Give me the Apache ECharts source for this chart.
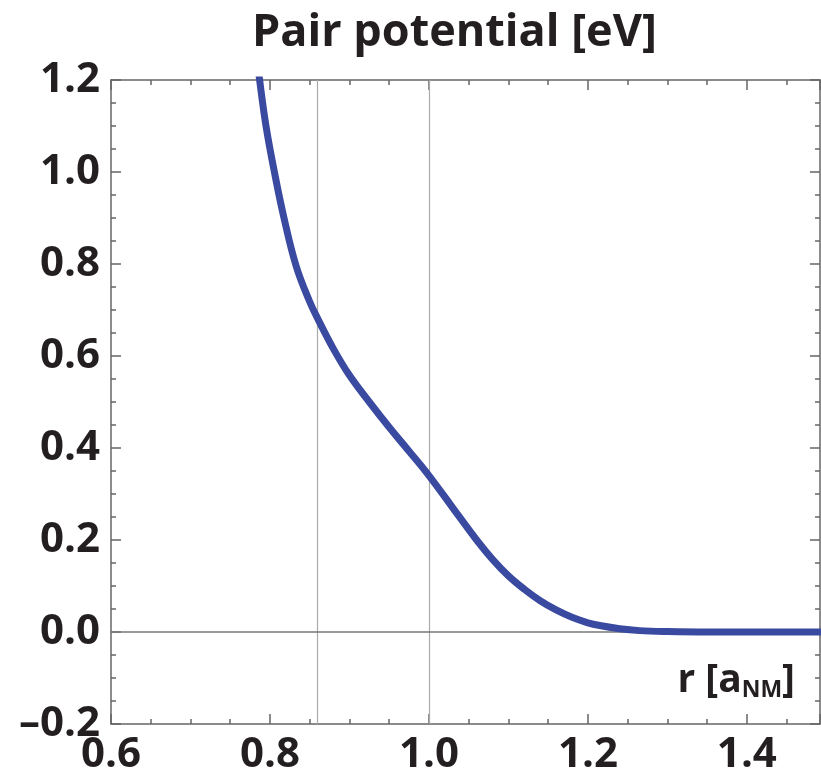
<!DOCTYPE html>
<html>
<head>
<meta charset="utf-8">
<script src="https://cdn.jsdelivr.net/npm/echarts@6/dist/echarts.min.js"></script>
<style>
  html, body { margin: 0; padding: 0; background: #fff; }
  #chart { width: 821px; height: 779px; }
</style>
</head>
<body>
<div id="chart"></div>
<script>
// r in units of a_NM
var rValues = [0.780, 0.787, 0.795, 0.805, 0.817, 0.833, 0.850, 0.861, 0.880, 0.900,
  0.925, 0.950, 0.975, 1.000, 1.030, 1.060, 1.080, 1.100, 1.120, 1.140,
  1.160, 1.180, 1.200, 1.215, 1.240, 1.265, 1.300, 1.350, 1.400, 1.500];
// pair potential in eV
var potValues = [1.30, 1.20, 1.10, 1.005, 0.905, 0.795, 0.718, 0.678, 0.615, 0.558,
  0.500, 0.445, 0.393, 0.340, 0.270, 0.200, 0.158, 0.122, 0.093, 0.068,
  0.048, 0.032, 0.020, 0.014, 0.007, 0.003, 0.001, 0, 0, 0];
var refLinesX = [0.86, 1.0];

var font = 'Open Sans';
var textColor = '#231f20';

var curve = rValues.map(function (r, i) { return [r, potValues[i]]; });

var chart = echarts.init(document.getElementById('chart'));

var tickStyle = { color: '#666', width: 1.5 };

var option = {
  animation: false,
  grid: { left: 111, top: 80, right: 1, bottom: 55 },
  xAxis: [{
    type: 'value',
    min: 0.6,
    max: 1.492,
    interval: 0.2,
    axisLine: { show: true, onZero: false, lineStyle: tickStyle },
    axisTick: { show: true, inside: true, length: 10, lineStyle: tickStyle },
    minorTick: { show: true, splitNumber: 4, length: 5, lineStyle: tickStyle },
    splitLine: { show: false },
    axisLabel: {
      showMaxLabel: false,
      margin: 10,
      color: textColor, fontFamily: font, fontWeight: 'bold', fontSize: 42,
      formatter: function (v) { return v.toFixed(1); }
    }
  }, {
    type: 'value',
    position: 'top',
    min: 0.6,
    max: 1.492,
    interval: 0.2,
    axisLine: { show: true, onZero: false, lineStyle: tickStyle },
    axisTick: { show: true, inside: true, length: 10, lineStyle: tickStyle },
    minorTick: { show: true, splitNumber: 4, length: 5, lineStyle: tickStyle },
    splitLine: { show: false },
    axisLabel: { show: false }
  }],
  yAxis: [{
    type: 'value',
    min: -0.2,
    max: 1.2,
    interval: 0.2,
    axisLine: { show: true, onZero: false, lineStyle: tickStyle },
    axisTick: { show: true, inside: true, length: 10, lineStyle: tickStyle },
    minorTick: { show: true, splitNumber: 4, length: 5, lineStyle: tickStyle },
    splitLine: { show: false },
    axisLabel: {
      margin: 11,
      color: textColor, fontFamily: font, fontWeight: 'bold', fontSize: 42,
      formatter: function (v) { return v.toFixed(1).replace('-', '\u2013'); }
    }
  }, {
    type: 'value',
    position: 'right',
    min: -0.2,
    max: 1.2,
    interval: 0.2,
    axisLine: { show: true, onZero: false, lineStyle: tickStyle },
    axisTick: { show: true, inside: true, length: 10, lineStyle: tickStyle },
    minorTick: { show: true, splitNumber: 4, length: 5, lineStyle: tickStyle },
    splitLine: { show: false },
    axisLabel: { show: false }
  }],
  series: [{
    type: 'line',
    data: curve,
    smooth: 0.4,
    showSymbol: false,
    clip: true,
    lineStyle: { color: '#3a4aa0', width: 7 },
    markLine: {
      silent: true,
      symbol: 'none',
      label: { show: false },
      data: refLinesX.map(function (x) {
        return { xAxis: x, lineStyle: { color: '#aaa', width: 1.2, type: 'solid' } };
      }).concat([{ yAxis: 0, lineStyle: { color: '#777', width: 1.5, type: 'solid' } }]),
      z: 1
    },
    z: 3
  }],
  graphic: [{
    type: 'text',
    left: 452 - 200,
    top: 11,
    style: {
      text: 'Pair potential [eV]',
      fontFamily: font, fontWeight: 'bold', fontSize: 45,
      fill: textColor,
      width: 400,
      align: 'center'
    }
  }, {
    type: 'text',
    x: 795,
    y: 700,
    style: {
      text: '{m|r [a}{s|NM}{m|]}',
      align: 'right',
      verticalAlign: 'bottom',
      fill: textColor,
      rich: {
        m: { fontFamily: font, fontWeight: 'bold', fontSize: 39, fill: textColor, verticalAlign: 'bottom' },
        s: { fontFamily: font, fontWeight: 'bold', fontSize: 23, fill: textColor, verticalAlign: 'bottom', padding: [0, 0, -2, 0] }
      }
    }
  }]
};

chart.setOption(option);
</script>
</body>
</html>
